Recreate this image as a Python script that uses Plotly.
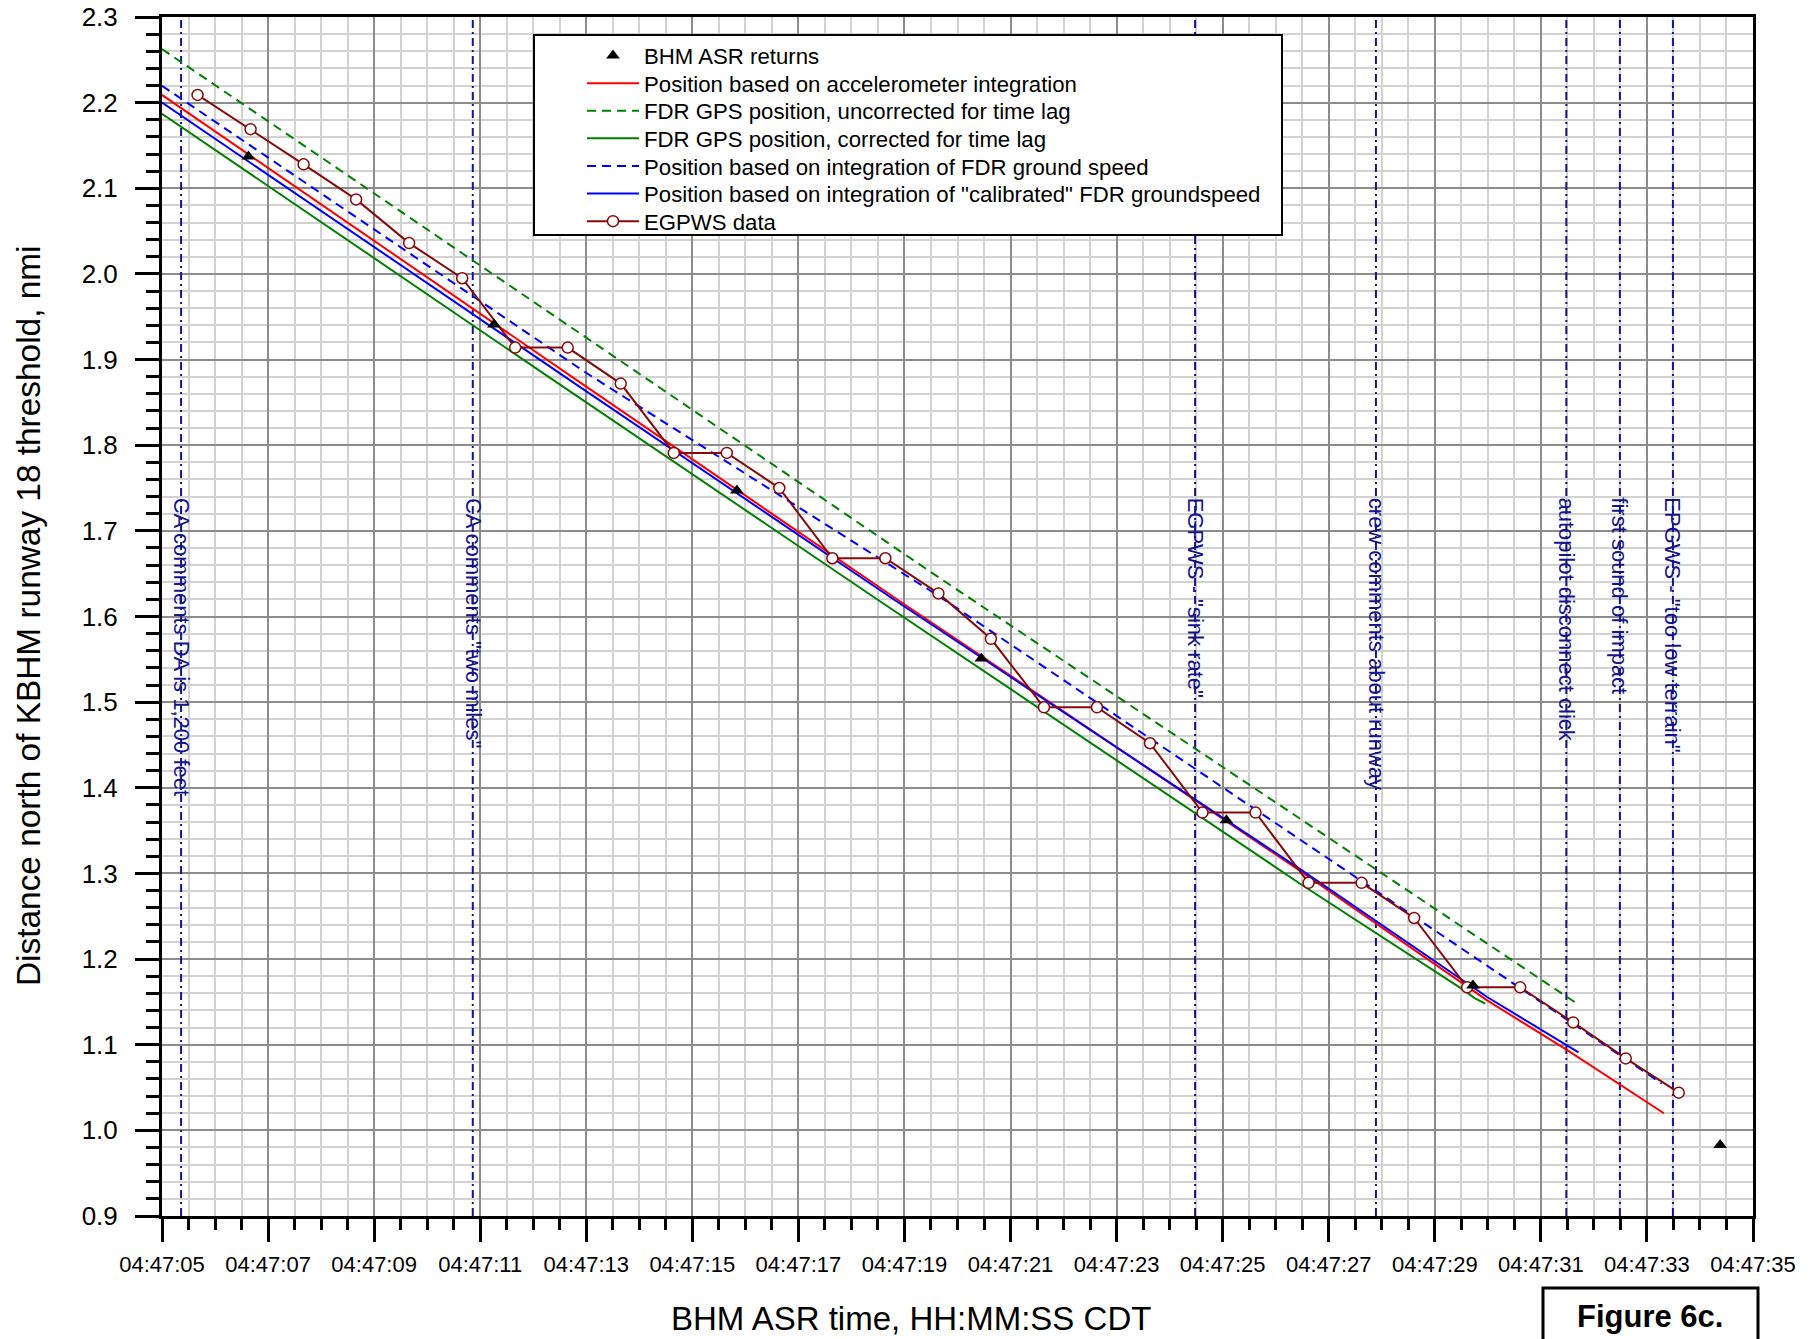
import pandas as pd
import plotly.graph_objects as go

FONT = "Liberation Sans, Arial, sans-serif"
BASE = pd.Timestamp("2013-08-14 04:47:00")

# ---- data (seconds after 04:47:00 CDT, distance in nmi) ----
asr_t = [6.63, 11.26, 15.84, 20.45, 25.07, 29.72, 34.38]
asr_d = [2.137, 1.941, 1.747, 1.551, 1.362, 1.169, 0.983]

accel_t = [5.0, 12.82, 18.885, 26.46, 29.98, 31.49, 33.32]
accel_d = [2.209, 1.876, 1.619, 1.303, 1.152, 1.094, 1.020]

gps_raw_t = [5.0, 13.07, 19.67, 31.68]
gps_raw_d = [2.2626, 1.923, 1.6446, 1.1481]

gps_cor_t = [5.0, 12.38, 18.51, 26.46, 29.54, 29.75, 29.95]
gps_cor_d = [2.187, 1.876, 1.619, 1.288, 1.164, 1.1545, 1.148]

gs_t = [5.0, 13.01, 19.67, 33.28]
gs_d = [2.2197, 1.884, 1.623, 1.0547]

cal_t = [5.0, 12.69, 18.82, 26.46, 29.98, 31.71]
cal_d = [2.200, 1.876, 1.619, 1.305, 1.156, 1.091]

egpws_t = [5.67, 6.67, 7.67, 8.66, 9.66, 10.66, 11.66, 12.65, 13.65, 14.65,
           15.65, 16.64, 17.64, 18.64, 19.64, 20.63, 21.63, 22.63, 23.63, 24.62,
           25.62, 26.62, 27.62, 28.61, 29.61, 30.61, 31.61, 32.60, 33.60]
egpws_d = [2.209, 2.169, 2.128, 2.087, 2.036, 1.995, 1.914, 1.914, 1.872, 1.791,
           1.791, 1.750, 1.668, 1.668, 1.627, 1.574, 1.494, 1.494, 1.452, 1.371,
           1.371, 1.289, 1.289, 1.248, 1.167, 1.167, 1.126, 1.084, 1.044]

event_t = [5.36, 10.86, 24.48, 27.89, 31.48, 32.49, 33.49]
event_text = ['CA comments DA is 1,200 feet',
              'CA comments "two miles"',
              'EGPWS - "sink rate"',
              'crew comments about runway',
              'autopilot disconnect click',
              'first sound of impact',
              'EPGWS - "too low terrain"']

x_range = [5, 35]
y_range = [0.9, 2.3]

series_names = ['BHM ASR returns',
                'Position based on accelerometer integration',
                'FDR GPS position, uncorrected for time lag',
                'FDR GPS position, corrected for time lag',
                'Position based on integration of FDR ground speed',
                'Position based on integration of "calibrated" FDR groundspeed',
                'EGPWS data']


def clock(sec):
    return [BASE + pd.Timedelta(seconds=float(s)) for s in sec]


# plot-area geometry in page pixels
W, H = 1816, 1339
L, R, T, B = 162, 63, 17, 123
PW, PH = W - L - R, H - T - B


def px_x(X):
    return (X - L) / PW


def px_y(Y):
    return (H - B - Y) / PH


EVENT_COLOR = '#14148c'
EG_COLOR = '#850a0a'

fig = go.Figure()

for t in event_t:
    fig.add_trace(go.Scatter(
        x=clock([t, t]), y=y_range, mode='lines', showlegend=False,
        hoverinfo='skip',
        line=dict(color=EVENT_COLOR, width=2, dash='8px,4px,2px,4px')))

legend_keys = ['legend'] + [f'legend{i}' for i in range(2, 8)]

fig.add_trace(go.Scatter(
    x=clock(gps_raw_t), y=gps_raw_d, mode='lines', name=series_names[2],
    legend=legend_keys[2],
    line=dict(color='#008000', width=2, dash='9px,6px')))
fig.add_trace(go.Scatter(
    x=clock(gps_cor_t), y=gps_cor_d, mode='lines', name=series_names[3],
    legend=legend_keys[3],
    line=dict(color='#008000', width=2)))
fig.add_trace(go.Scatter(
    x=clock(accel_t), y=accel_d, mode='lines', name=series_names[1],
    legend=legend_keys[1],
    line=dict(color='#ff0000', width=2)))
fig.add_trace(go.Scatter(
    x=clock(gs_t), y=gs_d, mode='lines', name=series_names[4],
    legend=legend_keys[4],
    line=dict(color='#0000ff', width=2, dash='9px,6px')))
fig.add_trace(go.Scatter(
    x=clock(cal_t), y=cal_d, mode='lines', name=series_names[5],
    legend=legend_keys[5],
    line=dict(color='#0000ff', width=2)))
fig.add_trace(go.Scatter(
    x=clock(egpws_t), y=egpws_d, mode='lines+markers', name=series_names[6],
    legend=legend_keys[6],
    line=dict(color=EG_COLOR, width=2),
    marker=dict(symbol='circle', size=11, color='white',
                line=dict(color=EG_COLOR, width=1.5))))
fig.add_trace(go.Scatter(
    x=clock(asr_t), y=asr_d, mode='markers', name=series_names[0],
    legend=legend_keys[0],
    marker=dict(symbol='triangle-up', size=12, color='black')))

# one single-entry legend per row so rows can be spaced freely
row_y = [55.6 + 27.6 * i for i in range(7)]
for key, ry in zip(legend_keys, row_y):
    fig.update_layout({key: dict(
        x=px_x(582), xanchor='left', y=px_y(ry), yanchor='middle',
        bgcolor='rgba(0,0,0,0)', borderwidth=0, itemwidth=52,
        font=dict(family=FONT, size=22.2, color='black'))})

annotations = [
    dict(text='Distance north of KBHM runway 18 threshold, nmi',
         xref='paper', yref='paper', x=px_x(28), y=px_y(616),
         xanchor='center', yanchor='middle', textangle=-90, showarrow=False,
         font=dict(family=FONT, size=33.4, color='black')),
    dict(text='BHM ASR time, HH:MM:SS CDT',
         xref='paper', yref='paper', x=px_x(911), y=px_y(1318),
         xanchor='center', yanchor='middle', showarrow=False,
         font=dict(family=FONT, size=33, color='black')),
    dict(text='<b>Figure 6c.</b>',
         xref='paper', yref='paper', x=px_x(1650), y=px_y(1317),
         xanchor='center', yanchor='middle', showarrow=False,
         font=dict(family=FONT, size=31, color='black')),
]
for t, txt in zip(event_t, event_text):
    annotations.append(dict(
        text=txt, x=clock([t])[0], y=1.741, xref='x', yref='y',
        xanchor='center', yanchor='top', textangle=90, showarrow=False,
        font=dict(family=FONT, size=22, color=EVENT_COLOR)))

shapes = [
    dict(type='rect', xref='paper', yref='paper', layer='above',
         x0=px_x(534), x1=px_x(1282), y0=px_y(235), y1=px_y(35),
         fillcolor='white', line=dict(color='black', width=2)),
    dict(type='rect', xref='paper', yref='paper', layer='above',
         x0=px_x(1543), x1=px_x(1758), y0=px_y(1350), y1=px_y(1288),
         fillcolor='white', line=dict(color='black', width=3)),
]

fig.update_layout(
    width=W, height=H,
    margin=dict(l=L, r=R, t=T, b=B, pad=0, autoexpand=False),
    paper_bgcolor='white', plot_bgcolor='white',
    font=dict(family=FONT, color='black'),
    annotations=annotations, shapes=shapes,
    xaxis=dict(
        type='date', range=clock(x_range), automargin=False,
        tick0=clock([x_range[0]])[0], dtick=2000, tickformat='%H:%M:%S',
        ticks='outside', ticklen=23, tickwidth=3, tickcolor='black',
        showline=True, linewidth=3, linecolor='black', mirror=True,
        showgrid=True, gridcolor='#8c8c8c', gridwidth=2, zeroline=False,
        tickfont=dict(family=FONT, size=22, color='black'),
        ticklabelstandoff=4,
        minor=dict(dtick=500, ticks='outside', ticklen=11, tickwidth=3,
                   tickcolor='black', showgrid=True, gridcolor='#d2d2d2',
                   gridwidth=1.5)),
    yaxis=dict(
        range=y_range, tick0=0.9, dtick=0.1, tickformat='.1f', automargin=False,
        ticks='outside', ticklen=24, tickwidth=3, tickcolor='black',
        showline=True, linewidth=3, linecolor='black', mirror=True,
        showgrid=True, gridcolor='#8c8c8c', gridwidth=2, zeroline=False,
        tickfont=dict(family=FONT, size=26, color='black'),
        ticklabelstandoff=12,
        minor=dict(dtick=0.02, ticks='outside', ticklen=13, tickwidth=3,
                   tickcolor='black', showgrid=True, gridcolor='#d2d2d2',
                   gridwidth=1.5)),
)

fig.write_html("out.html")
